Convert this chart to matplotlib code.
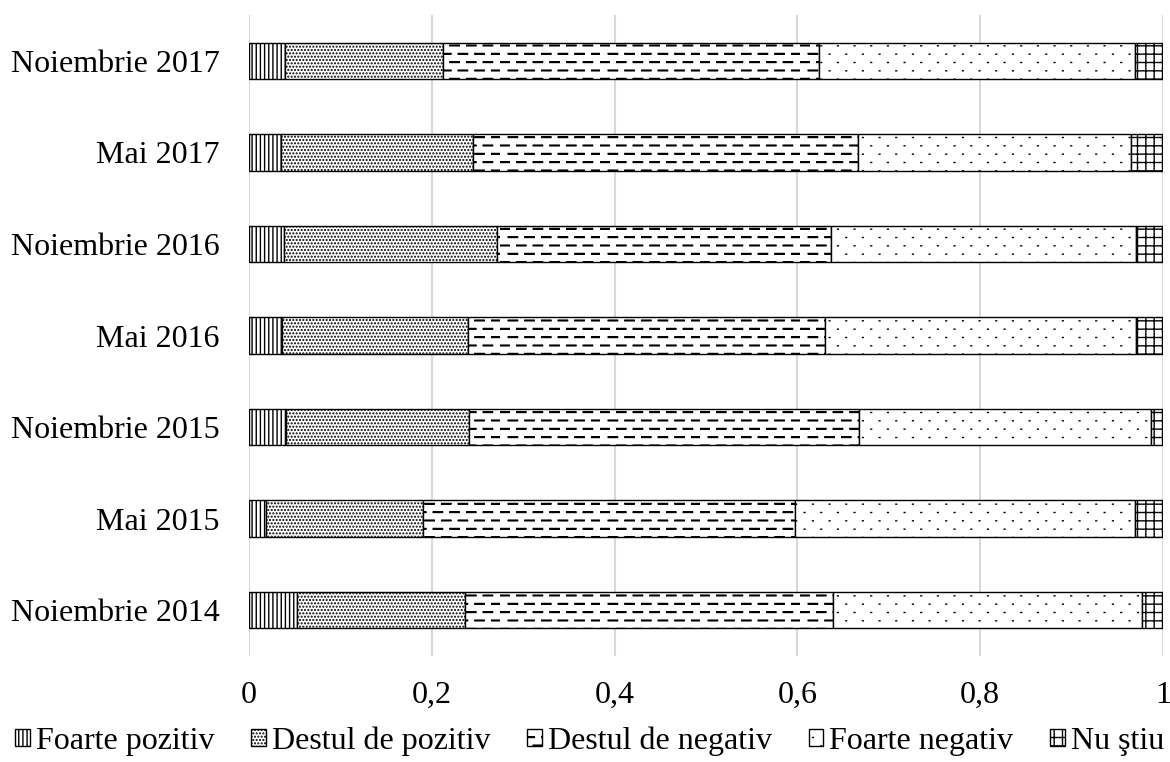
import warnings
import numpy as np
import matplotlib
matplotlib.use('Agg')
import matplotlib.pyplot as plt
import matplotlib.hatch as mhatch
from matplotlib.path import Path

warnings.filterwarnings('ignore')

periods = ['Noiembrie 2014', 'Mai 2015', 'Noiembrie 2015', 'Mai 2016',
           'Noiembrie 2016', 'Mai 2017', 'Noiembrie 2017']
labels = ['Foarte pozitiv', 'Destul de pozitiv', 'Destul de negativ',
          'Foarte negativ', 'Nu ştiu']

foarte_pozitiv = [0.052, 0.019, 0.041, 0.036, 0.038, 0.035, 0.039]
destul_pozitiv = [0.184, 0.171, 0.200, 0.204, 0.233, 0.210, 0.173]
destul_negativ = [0.403, 0.407, 0.426, 0.390, 0.366, 0.421, 0.412]
foarte_negativ = [0.338, 0.372, 0.320, 0.341, 0.334, 0.299, 0.345]
nu_stiu = [0.023, 0.031, 0.013, 0.029, 0.029, 0.035, 0.031]

xticks = [0, 0.2, 0.4, 0.6, 0.8, 1]
xtick_labels = ['0', '0,2', '0,4', '0,6', '0,8', '1']


# dashed horizontal hatch ('_'), like the Excel "dashed" pattern
class DashHatch(mhatch.HatchPatternBase):
    def __init__(self, hatch, density):
        self.num_rows = int(hatch.count('_') * density)
        self.num_dash = 6
        self.num_vertices = self.num_rows * self.num_dash * 4

    def set_vertices_and_codes(self, vertices, codes):
        k = 0
        step = 1.0 / self.num_dash
        for i in range(self.num_rows):
            y = (i + 0.5) / self.num_rows
            off = (i % 2) * step / 2
            for j in range(self.num_dash):
                x0 = j * step + off
                for dy in (0.0, 0.007):
                    vertices[k] = (x0, y + dy)
                    vertices[k + 1] = (x0 + step * 0.55, y + dy)
                    codes[k] = Path.MOVETO
                    codes[k + 1] = Path.LINETO
                    k += 2


# sparse tiny dots (':'), staggered rows
class SparseDotHatch(mhatch.HatchPatternBase):
    def __init__(self, hatch, density):
        self.num_rows = int(hatch.count(':') * density)
        self.num_cols = self.num_rows // 2
        self.num_vertices = self.num_rows * self.num_cols * 2

    def set_vertices_and_codes(self, vertices, codes):
        k = 0
        step = 1.0 / max(self.num_cols, 1)
        for i in range(self.num_rows):
            y = (i + 0.5) / self.num_rows
            off = (i % 2) * step / 2 + step / 4
            for j in range(self.num_cols):
                x0 = j * step + off
                vertices[k] = (x0, y)
                vertices[k + 1] = (x0 + 0.008, y)
                codes[k] = Path.MOVETO
                codes[k + 1] = Path.LINETO
                k += 2


mhatch._hatch_types.append(DashHatch)
mhatch._hatch_types.append(SparseDotHatch)

plt.rcParams['font.family'] = ['Liberation Serif', 'DejaVu Serif']
plt.rcParams['hatch.linewidth'] = 1.0

series = [foarte_pozitiv, destul_pozitiv, destul_negativ, foarte_negativ, nu_stiu]
hatches = ['||||', '.....', '__', '::', '++']

fig = plt.figure(figsize=(11.7, 7.62), dpi=100)
ax = fig.add_axes([0.2128, 0.1394, 0.994 - 0.2128, 0.98 - 0.1394])

y = np.arange(len(periods))
left = np.zeros(len(periods))
for vals, lab, h in zip(series, labels, hatches):
    ax.barh(y, vals, left=left, height=0.4, color='white', edgecolor='black',
            linewidth=1.0, hatch=h, label=lab, zorder=3)
    left += np.array(vals)

ax.set_xlim(0, 1)
ax.set_ylim(-0.5, len(periods) - 0.5)
ax.set_yticks(y)
ax.set_yticklabels(periods, fontsize=23)
ax.set_xticks(xticks)
ax.set_xticklabels(xtick_labels, fontsize=23)
ax.tick_params(axis='both', length=0)
ax.tick_params(axis='y', pad=21)
ax.tick_params(axis='x', pad=18)
ax.grid(axis='x', color='#d9d9d9', linewidth=1.5, zorder=0)
for s in ax.spines.values():
    s.set_visible(False)

fig.legend(loc='center', bbox_to_anchor=(0.504, 0.027), ncol=5, frameon=False,
           fontsize=23, handlelength=0.45, handleheight=0.45,
           handletextpad=0.2, columnspacing=1.15, borderpad=0)

fig.savefig('out.png', dpi=100)
